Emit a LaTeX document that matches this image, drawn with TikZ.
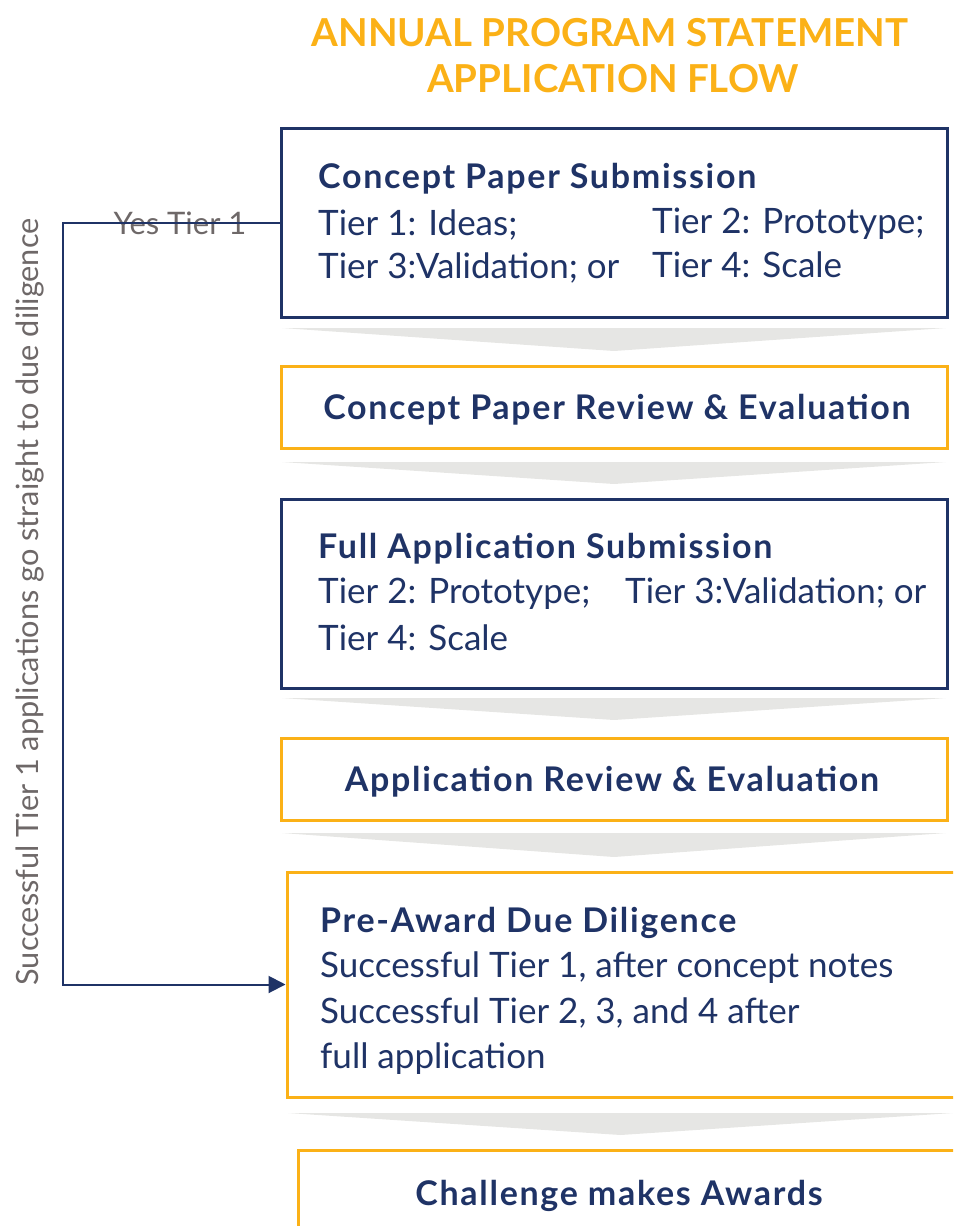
\documentclass[tikz,border=0pt]{standalone}
\usepackage{fontspec}
\setmainfont{Lato}
\usetikzlibrary{arrows.meta}
\definecolor{apsnavy}{HTML}{1F3366}
\definecolor{apsorange}{HTML}{FBB117}
\definecolor{apsgray}{HTML}{6E6868}
\definecolor{chevgray}{HTML}{E6E6E4}
\tikzset{
  navybox/.style={draw=apsnavy, line width=3pt, inner sep=0pt},
  orangebox/.style={draw=apsorange, line width=3pt, inner sep=0pt},
  head/.style={text=apsnavy, font=\fontsize{34}{40}\selectfont\bfseries\addfontfeature{LetterSpace=5}, inner sep=0pt},
  body/.style={text=apsnavy, font=\fontsize{35}{42}\selectfont, anchor=base west, inner sep=0pt},
  chev/.style={fill=chevgray},
  jump/.style={draw=apsnavy, line width=2pt},
}
\begin{document}
\begin{tikzpicture}[x=1pt, y=-1pt]
	\clip (0,0) rectangle (953,1226);
	\useasboundingbox (0,0) rectangle (953,1226);
	% title
	\node[text=apsorange, font=\fontsize{38.5}{46}\selectfont\bfseries, anchor=base, inner sep=0pt] (title1) at (610,46) {ANNUAL PROGRAM STATEMENT};
	\node[text=apsorange, font=\fontsize{38.5}{46}\selectfont\bfseries, anchor=base, inner sep=0pt] (title2) at (613,92) {APPLICATION FLOW};
	% boxes
	\node[navybox, minimum width=666pt, minimum height=189pt] (cps) at (614,222.5) {};
	\node[orangebox, minimum width=666pt, minimum height=82pt] (cpr) at (614,407) {};
	\node[navybox, minimum width=666pt, minimum height=189pt] (fas) at (614,593.5) {};
	\node[orangebox, minimum width=666pt, minimum height=82pt] (ar) at (614,779) {};
	\node[orangebox, minimum width=713pt, minimum height=225pt] (pad) at (643.5,984.5) {};
	\node[orangebox, minimum width=702pt, minimum height=150pt] (cma) at (649,1225) {};
	% chevrons between the boxes
	\foreach \top/\tip/\l/\r in {328/351/282/946, 462/484/282/946, 698/720/282/946, 833/857/282/946, 1113/1135/288/953} {
		\fill[chev] (\l,\top) -- (\r,\top) -- ({(\l+\r)/2},\tip) -- cycle;
	}
	% texts
	\node[head, anchor=base west] (cpsh) at (318,188) {Concept Paper Submission};
	\node[body] (cpst1) at (318,235) {Tier 1: Ideas;};
	\node[body] (cpst2) at (652,233) {Tier 2: Prototype;};
	\node[body] (cpst3) at (318,278) {Tier 3:Validation; or};
	\node[body] (cpst4) at (652,277) {Tier 4: Scale};
	\node[head, anchor=base] (cprh) at (617,419) {Concept Paper Review \& Evaluation};
	\node[head, anchor=base west] (fash) at (318,558) {Full Application Submission};
	\node[body] (fast2) at (318,603) {Tier 2: Prototype;};
	\node[body] (fast3) at (625,603) {Tier 3:Validation; or};
	\node[body] (fast4) at (318,650) {Tier 4: Scale};
	\node[head, anchor=base] (arh) at (612,791) {Application Review \& Evaluation};
	\node[head, anchor=base west] (padh) at (320,932) {Pre-Award Due Diligence};
	\node[body] (padl1) at (320,977) {Successful Tier 1, after concept notes};
	\node[body] (padl2) at (320,1023) {Successful Tier 2, 3, and 4 after};
	\node[body] (padl3) at (320,1068) {full application};
	\node[head, anchor=base] (cmah) at (619,1205) {Challenge makes Awards};
	% shortcut for tier 1
	\node[text=apsgray, font=\fontsize{31}{37}\selectfont, anchor=base, inner sep=0pt] (yes) at (180,234) {Yes Tier 1};
	\draw[jump, -{Triangle[length=17pt, width=17pt]}] (cps.west) -- ++(-217,0) |- (pad.west);
	\node[text=apsgray, font=\fontsize{30.7}{37}\selectfont, rotate=90, inner sep=0pt] (side) at (30,602) {Successful Tier 1 applications go straight to due diligence};
\end{tikzpicture}
\end{document}
